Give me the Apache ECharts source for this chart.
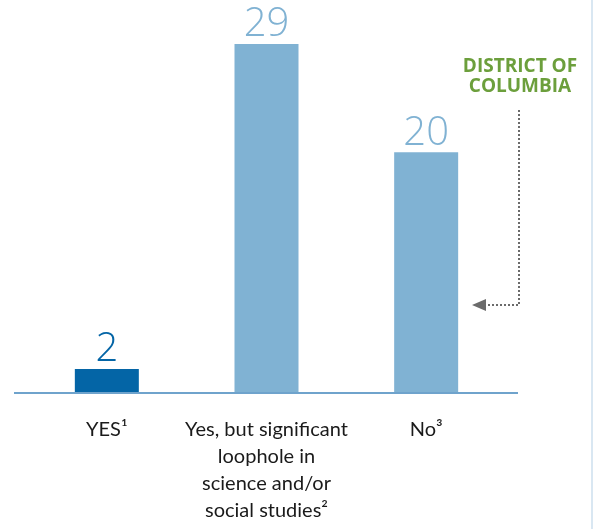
<!DOCTYPE html>
<html>
<head>
<meta charset="utf-8">
<script src="https://cdn.jsdelivr.net/npm/echarts@6/dist/echarts.min.js"></script>
<style>
html,body{margin:0;padding:0;background:#fff;}
#chart{width:595px;height:529px;}
</style>
</head>
<body>
<div id="chart"></div>
<script>
const categories = ["YES\u00B9", "Yes, but significant\nloophole in\nscience and/or\nsocial studies\u00B2", "No\u00B3"];
const values = [2, 29, 20];
const barColors = ["#0465a6", "#80b2d3", "#80b2d3"];
const annotationLines = ["DISTRICT OF", "COLUMBIA"];

const chart = echarts.init(document.getElementById('chart'), null, {renderer: 'canvas'});

const data = values.map((v, i) => ({
  value: v,
  itemStyle: {color: barColors[i]},
  label: {color: barColors[i]}
}));

chart.setOption({
  animation: false,
  grid: {left: 27, right: 89, top: 32, bottom: 136},
  xAxis: {
    type: 'category',
    data: categories,
    axisLine: {show: false},
    axisTick: {show: false},
    axisLabel: {
      interval: 0,
      margin: 23,
      color: '#1a1a1a',
      fontFamily: 'Lato',
      fontSize: 20,
      lineHeight: 27
    }
  },
  yAxis: {
    type: 'value',
    min: 0,
    max: 30,
    show: false,
    splitLine: {show: false}
  },
  series: [{
    type: 'bar',
    barWidth: 64,
    data: data,
    label: {
      show: true,
      position: 'top',
      distance: -1,
      fontFamily: 'Open Sans',
      fontSize: 40,
      fontWeight: 300
    }
  }]
});

const y0 = chart.convertToPixel({gridIndex: 0}, [0, 0])[1];

chart.setOption({
  graphic: [
    {type: 'line', shape: {x1: 14, y1: y0, x2: 518, y2: y0}, style: {stroke: '#6fa3cc', lineWidth: 2}, z: 10},
    {type: 'line', shape: {x1: 592, y1: 0, x2: 592, y2: 529}, style: {stroke: '#d9e7f2', lineWidth: 2}},
    {type: 'text', x: 520, y: 57, style: {text: annotationLines.join('\n'), fill: '#6c9f3c', font: 'bold 19px "Open Sans"', align: 'center', lineHeight: 20}},
    {type: 'polyline', shape: {points: [[519, 110], [519, 305], [486, 305]]}, style: {stroke: '#6b6b6b', lineWidth: 2, lineDash: [2, 2], fill: null}},
    {type: 'polygon', shape: {points: [[472, 305], [486, 299], [486, 311]]}, style: {fill: '#6b6b6b'}}
  ]
});
</script>
</body>
</html>
